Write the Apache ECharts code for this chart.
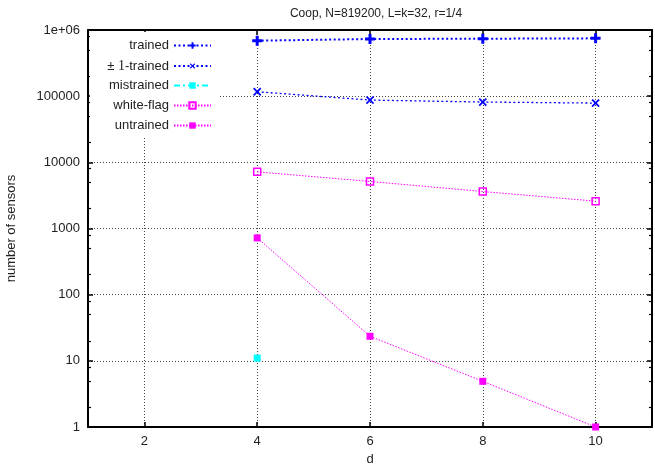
<!DOCTYPE html>
<html><head><meta charset="utf-8">
<script src="https://cdn.jsdelivr.net/npm/echarts@6/dist/echarts.min.js"></script>
<style>html,body{margin:0;padding:0;background:#fff}#c{width:655px;height:467px}</style>
</head><body><div id="c"></div>
<script>
// ---- data ----
const dValues = [4, 6, 8, 10];
const trained = [689000, 731000, 738000, 748000];
const pm1Trained = [116600, 87300, 81500, 78600];
const mistrained = [11, null, null, null];
const whiteFlag = [7180, 5140, 3620, 2590];
const untrained = [721, 23.5, 4.9, 1];
const seriesNames = ['trained', '± 1-trained', 'mistrained', 'white-flag', 'untrained'];
const yTickValues = [1, 10, 100, 1000, 10000, 100000, 1000000];
const yTickLabels = ['1', '10', '100', '1000', '10000', '100000', '1e+06'];
const yMinorTickValues = [2, 5, 8, 20, 50, 80, 200, 500, 800, 2000, 5000, 8000, 20000, 50000, 80000, 200000, 500000, 800000];
const titleText = 'Coop, N=819200, L=k=32, r=1/4';
const xName = 'd';
const yName = 'number of sensors';

const pair = (vals) => dValues.map((d, i) => [d, vals[i]]);

const FONT = 'Liberation Sans';
const TXT = '#222';
const GRID = {left: 88, right: 3, top: 30, bottom: 40, outerBoundsMode: 'none', containLabel: false};

const plusPath = 'path://M2.8,0H5.2V2.8H8V5.2H5.2V8H2.8V5.2H0V2.8H2.8Z';
const thinPlusPath = 'path://M3.3,0H4.7V3.3H8V4.7H4.7V8H3.3V4.7H0V3.3H3.3Z';

const chart = echarts.init(document.getElementById('c'), null, {renderer: 'canvas'});

const legendRowTops = [39, 59, 79, 99, 119];
const legends = seriesNames.map((n, i) => ({
  data: [n],
  orient: 'vertical',
  align: 'right',
  right: 443,
  top: legendRowTops[i],
  padding: 0,
  itemWidth: 37,
  itemHeight: 8,
  itemGap: 0,
  selectedMode: false,
  formatter: (name) => name === '± 1-trained' ? '{a|± }{b|1}{a|-trained}' : name,
  textStyle: {
    fontFamily: FONT, fontSize: 13, color: TXT,
    rich: {
      a: {fontFamily: FONT, fontSize: 13, color: TXT},
      b: {fontFamily: 'Liberation Serif', fontSize: 14, color: TXT}
    }
  }
}));

const option = {
  animation: false,
  backgroundColor: '#fff',
  textStyle: {fontFamily: FONT},
  title: {
    text: titleText,
    left: 371, top: 3, textAlign: 'center',
    textStyle: {fontFamily: FONT, fontSize: 12, fontWeight: 'normal', color: TXT}
  },
  legend: legends,
  graphic: {
    elements: [{
      type: 'rect', left: 90, top: 32, z: 1,
      shape: {width: 130, height: 104},
      style: {fill: '#fff'}
    }]
  },
  grid: [Object.assign({}, GRID), Object.assign({}, GRID)],
  xAxis: [
    {
      gridIndex: 0, type: 'value', min: 1, max: 11, splitNumber: 5, position: 'bottom',
      name: xName, nameLocation: 'middle', nameGap: 26,
      nameTextStyle: {fontFamily: FONT, fontSize: 13, color: TXT},
      axisLine: {show: true, onZero: false, lineStyle: {color: '#000', width: 2}},
      axisTick: {show: true, inside: true, length: 5, lineStyle: {color: '#000', width: 1.5}},
      axisLabel: {showMinLabel: false, showMaxLabel: false, fontFamily: FONT, fontSize: 13, color: TXT, margin: 8},
      splitLine: {show: true, lineStyle: {color: '#444', width: 1, type: [1, 2]}}
    },
    {
      gridIndex: 0, type: 'value', min: 1, max: 11, splitNumber: 5, position: 'top',
      axisLine: {show: true, onZero: false, lineStyle: {color: '#000', width: 2}},
      axisTick: {show: true, inside: true, length: 5, lineStyle: {color: '#000', width: 1.5}},
      axisLabel: {show: false},
      splitLine: {show: false}
    },
    {gridIndex: 1, type: 'value', min: 1, max: 11, show: false}
  ],
  yAxis: [
    {
      gridIndex: 0, type: 'log', logBase: 10, min: 1, max: 1000000, position: 'left',
      name: yName, nameLocation: 'middle', nameGap: 70,
      nameTextStyle: {fontFamily: FONT, fontSize: 13, color: TXT},
      axisLine: {show: true, onZero: false, lineStyle: {color: '#000', width: 2}},
      axisTick: {show: true, inside: true, length: 5, lineStyle: {color: '#000', width: 1.5}},
      axisLabel: {
        fontFamily: FONT, fontSize: 13, color: TXT, margin: 8,
        formatter: (v) => {
          const i = yTickValues.findIndex(t => Math.abs(Math.log10(t) - Math.log10(v)) < 1e-6);
          return i >= 0 ? yTickLabels[i] : '';
        }
      },
      splitLine: {show: true, lineStyle: {color: '#444', width: 1, type: [1, 2]}}
    },
    {
      gridIndex: 0, type: 'log', logBase: 10, min: 1, max: 1000000, position: 'right',
      axisLine: {show: true, onZero: false, lineStyle: {color: '#000', width: 2}},
      axisTick: {show: true, inside: true, length: 5, lineStyle: {color: '#000', width: 1.5}},
      axisLabel: {show: false},
      splitLine: {show: false}
    },
    {
      gridIndex: 1, type: 'log', logBase: 10, min: 1, max: 1000000, position: 'left',
      axisLine: {show: false},
      axisTick: {show: true, inside: true, length: 3, customValues: yMinorTickValues, lineStyle: {color: '#000', width: 1.2}},
      axisLabel: {show: false},
      splitLine: {show: false}
    },
    {
      gridIndex: 1, type: 'log', logBase: 10, min: 1, max: 1000000, position: 'right',
      axisLine: {show: false},
      axisTick: {show: true, inside: true, length: 3, customValues: yMinorTickValues, lineStyle: {color: '#000', width: 1.2}},
      axisLabel: {show: false},
      splitLine: {show: false}
    }
  ],
  series: [
    {
      name: seriesNames[0], type: 'line', xAxisIndex: 0, yAxisIndex: 0, z: 3,
      data: pair(trained),
      symbol: plusPath, symbolSize: 10,
      lineStyle: {color: '#0000ff', width: 2, type: [2, 2.5]},
      itemStyle: {color: '#0000ff'}
    },
    {
      name: seriesNames[1], type: 'line', xAxisIndex: 0, yAxisIndex: 0, z: 3,
      data: pair(pm1Trained),
      symbol: thinPlusPath, symbolSize: 10, symbolRotate: 45,
      lineStyle: {color: '#0000ff', width: 1.3, type: [2, 2.5]},
      itemStyle: {color: '#0000ff'}
    },
    {
      name: seriesNames[2], type: 'line', xAxisIndex: 0, yAxisIndex: 0, z: 3,
      data: pair(mistrained),
      symbol: 'rect', symbolSize: 7,
      lineStyle: {color: '#00ffff', width: 2.5, type: [6, 3, 2, 3]},
      itemStyle: {color: '#00ffff'}
    },
    {
      name: seriesNames[3], type: 'line', xAxisIndex: 0, yAxisIndex: 0, z: 3,
      data: pair(whiteFlag),
      symbol: 'rect', symbolSize: 7,
      lineStyle: {color: '#ff00ff', width: 1, type: [1.5, 1.5]},
      itemStyle: {color: 'rgba(255,255,255,0)', borderColor: '#ff00ff', borderWidth: 1.5}
    },
    {
      name: seriesNames[4], type: 'line', xAxisIndex: 0, yAxisIndex: 0, z: 3,
      data: pair(untrained),
      symbol: 'rect', symbolSize: 7,
      lineStyle: {color: '#ff00ff', width: 1, type: [1.5, 1.5]},
      itemStyle: {color: '#ff00ff'}
    }
  ]
};
chart.setOption(option);
</script>
</body></html>
